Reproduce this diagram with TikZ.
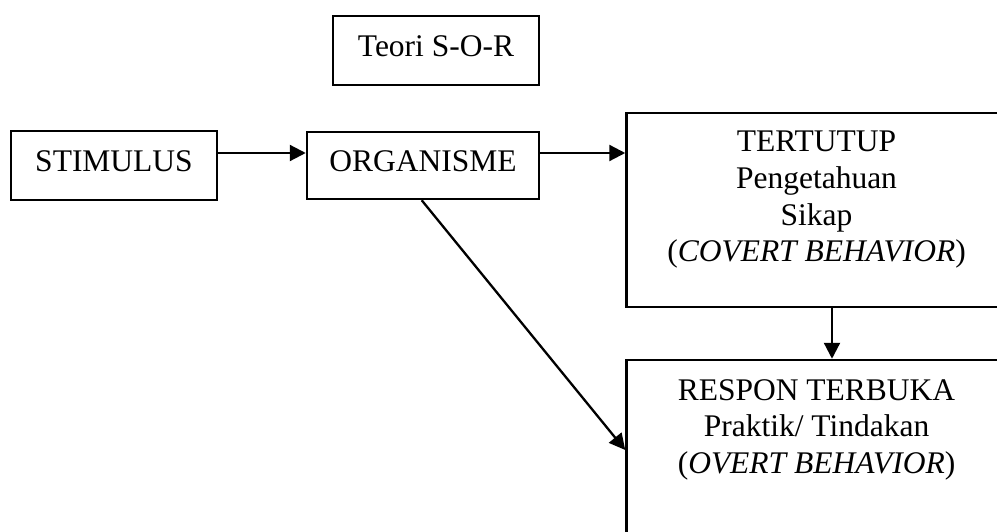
\documentclass[tikz,border=0pt]{standalone}
\usepackage{fontspec}
\setmainfont{Liberation Serif}
\usetikzlibrary{arrows.meta}
\begin{document}
\begin{tikzpicture}[x=1pt,y=-1pt,
  box/.style={draw, line width=2.5pt, inner sep=0pt, font=\fontsize{31.5}{36.7}\selectfont, text depth=8pt},
  bigbox/.style={draw, line width=2.5pt, minimum width=380pt},
  txt/.style={inner sep=0pt, align=center, font=\fontsize{31.5}{36.7}\selectfont, anchor=north},
  arr/.style={line width=2.3pt, -{Triangle[length=16pt,width=16pt]}}]
\useasboundingbox (0,0) rectangle (997,532);
\clip (0,0) rectangle (997,532);

\node[box, minimum width=206pt, minimum height=69pt] (teori) at (436,50.5) {Teori S-O-R};
\node[box, minimum width=206pt, minimum height=69pt] (stim) at (114,165.5) {STIMULUS};
\node[box, minimum width=232pt, minimum height=67pt] (org) at (423,165.5) {ORGANISME};
\node[bigbox, minimum height=194pt] (tert) at (816.5,210) {};
\node[bigbox, minimum height=180pt] (respon) at (816.5,450) {};

\node[txt] (terttxt) at (816.5,131) {TERTUTUP\\Pengetahuan\\Sikap\\(\textit{COVERT BEHAVIOR})};
\node[txt] (respontxt) at (816.5,379) {RESPON TERBUKA\\Praktik/ Tindakan\\(\textit{OVERT BEHAVIOR})};

\draw[arr] ([yshift=12.5pt]stim.east) -- ([yshift=12.5pt]org.west);
\draw[arr] ([yshift=12.5pt]org.east) coordinate (a) -- (a -| tert.west);
\draw[arr] ([xshift=15.5pt]tert.south) -- ([xshift=15.5pt]respon.north);
\draw[arr] ([xshift=-1.3pt]org.south) -- (respon.west);
\end{tikzpicture}
\end{document}
